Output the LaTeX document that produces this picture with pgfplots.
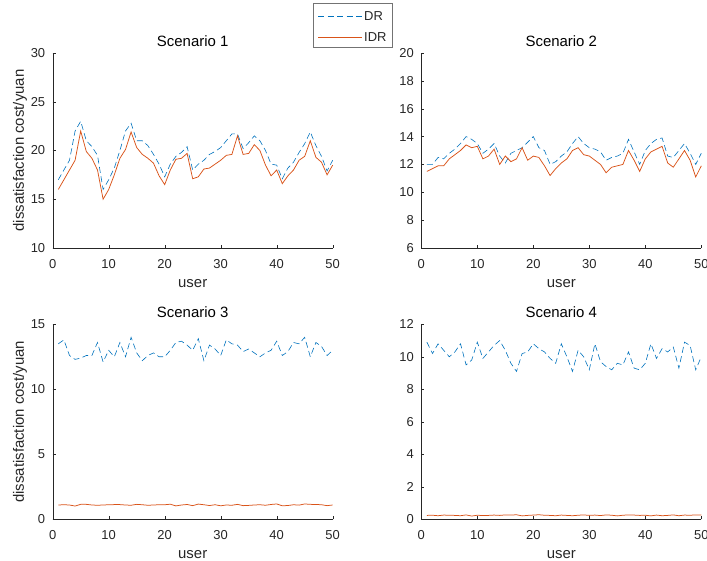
\documentclass[border=0pt]{standalone}
\usepackage{pgfplots}
\pgfplotsset{compat=1.18}
\usepackage{fontspec}
\setmainfont{Liberation Sans}

\definecolor{mblue}{rgb}{0,0.447,0.741}
\definecolor{morange}{rgb}{0.85,0.325,0.098}
\definecolor{axgray}{rgb}{0.15,0.15,0.15}

\tikzset{
  dr/.style={draw=mblue, line width=0.6bp, dash pattern=on 6bp off 3.5bp},
  idr/.style={draw=morange, line width=0.75bp},
}

\pgfplotsset{
  mstyle/.style={
    width=280bp, height=195bp, scale only axis,
    axis lines=left, axis line style={-, axgray},
    tick align=inside, major tick length=3bp,
    tick style={axgray},
    xmin=0, xmax=50, xtick={0,10,...,50},
    /pgf/number format/assume math mode=true,
    tick label style={font=\fontsize{13}{15}\selectfont, text=axgray},
    x tick label style={yshift=-8bp},
    y tick label style={xshift=-4bp},
    label style={font=\fontsize{15}{18}\selectfont, text=axgray},
    xlabel={user},
    xlabel style={at={(axis description cs:0.5,0)}, anchor=base, yshift=-39.5bp},
    ylabel style={at={(axis description cs:-0.117,0.5)}, anchor=center},
    title style={font=\fontsize{15}{18}\selectfont, at={(axis description cs:0.5,1)}, anchor=base, yshift=1bp},
    clip=false,
  },
}

\begin{document}
\begin{tikzpicture}
\useasboundingbox (0,0) rectangle (707bp,561bp);

% Scenario 1
\begin{axis}[mstyle, at={(52.7bp,313bp)}, anchor=south west,
  title={Scenario 1}, ylabel={dissatisfaction cost/yuan},
  ymin=10, ymax=30, ytick={10,15,...,30},
  ]
\addplot[dr] coordinates {
(1,17.0)(2,18.0)(3,19.0)(4,22.0)(5,23.0)(6,21.0)(7,20.4)(8,19.5)(9,16.0)(10,17.0)
(11,18.2)(12,20.0)(13,22.0)(14,22.8)(15,21.0)(16,21.0)(17,20.5)(18,19.6)(19,18.6)(20,17.3)
(21,18.6)(22,19.4)(23,19.8)(24,20.4)(25,18.0)(26,18.6)(27,19.0)(28,19.6)(29,19.9)(30,20.3)
(31,21.0)(32,21.7)(33,21.7)(34,20.2)(35,20.8)(36,21.5)(37,21.0)(38,20.0)(39,18.6)(40,18.5)
(41,17.1)(42,18.2)(43,18.8)(44,19.8)(45,20.7)(46,21.9)(47,20.5)(48,19.4)(49,17.9)(50,19.0)};
\addplot[idr] coordinates {
(1,16.0)(2,17.0)(3,18.0)(4,19.0)(5,22.0)(6,19.9)(7,19.2)(8,18.0)(9,15.0)(10,16.0)
(11,17.5)(12,19.2)(13,20.1)(14,21.9)(15,20.3)(16,19.6)(17,19.2)(18,18.7)(19,17.4)(20,16.5)
(21,18.0)(22,19.1)(23,19.2)(24,19.7)(25,17.1)(26,17.3)(27,18.1)(28,18.2)(29,18.6)(30,19.0)
(31,19.5)(32,19.6)(33,21.5)(34,19.6)(35,19.7)(36,20.6)(37,20.0)(38,18.5)(39,17.4)(40,18.0)
(41,16.6)(42,17.4)(43,18.0)(44,19.0)(45,19.4)(46,21.0)(47,19.3)(48,18.8)(49,17.5)(50,18.5)};
\end{axis}

% Scenario 2
\begin{axis}[mstyle, at={(421.3bp,313bp)}, anchor=south west,
  title={Scenario 2},
  ymin=6, ymax=20, ytick={6,8,...,20},
  ]
\addplot[dr] coordinates {
(1,12.0)(2,12.0)(3,12.5)(4,12.4)(5,12.8)(6,13.1)(7,13.5)(8,14.0)(9,13.8)(10,13.5)
(11,12.8)(12,13.1)(13,13.5)(14,12.6)(15,12.1)(16,12.8)(17,13.0)(18,13.2)(19,13.6)(20,14.0)
(21,13.2)(22,13.0)(23,12.0)(24,12.2)(25,12.6)(26,12.9)(27,13.5)(28,14.0)(29,13.5)(30,13.2)
(31,13.1)(32,12.9)(33,12.3)(34,12.5)(35,12.6)(36,12.8)(37,13.8)(38,12.9)(39,12.0)(40,13.0)
(41,13.5)(42,13.8)(43,13.9)(44,12.6)(45,12.5)(46,13.0)(47,13.5)(48,12.8)(49,12.0)(50,12.8)};
\addplot[idr] coordinates {
(1,11.5)(2,11.7)(3,11.9)(4,11.9)(5,12.4)(6,12.7)(7,13.0)(8,13.4)(9,13.2)(10,13.3)
(11,12.4)(12,12.6)(13,13.1)(14,12.0)(15,12.6)(16,12.2)(17,12.4)(18,13.2)(19,12.3)(20,12.6)
(21,12.5)(22,11.9)(23,11.2)(24,11.7)(25,12.1)(26,12.4)(27,13.0)(28,13.2)(29,12.7)(30,12.6)
(31,12.3)(32,12.0)(33,11.4)(34,11.8)(35,11.9)(36,12.0)(37,13.0)(38,12.3)(39,11.5)(40,12.4)
(41,12.9)(42,13.1)(43,13.3)(44,12.1)(45,11.8)(46,12.4)(47,13.0)(48,12.3)(49,11.1)(50,11.9)};
\end{axis}

% Scenario 3
\begin{axis}[mstyle, at={(52.7bp,41.7bp)}, anchor=south west,
  title={Scenario 3}, ylabel={dissatisfaction cost/yuan},
  ymin=0, ymax=15, ytick={0,5,10,15},
  ]
\addplot[dr] coordinates {
(1,13.5)(2,13.8)(3,12.6)(4,12.3)(5,12.4)(6,12.6)(7,12.6)(8,13.6)(9,12.1)(10,13.0)
(11,12.5)(12,13.6)(13,12.5)(14,14.0)(15,12.8)(16,12.2)(17,12.6)(18,12.8)(19,12.5)(20,12.5)
(21,13.0)(22,13.6)(23,13.7)(24,13.4)(25,13.0)(26,13.9)(27,12.2)(28,13.4)(29,13.1)(30,12.6)
(31,13.8)(32,13.5)(33,13.4)(34,12.9)(35,13.1)(36,12.8)(37,12.5)(38,12.8)(39,13.0)(40,13.7)
(41,12.6)(42,12.9)(43,13.6)(44,13.5)(45,14.0)(46,12.5)(47,13.6)(48,13.3)(49,12.6)(50,13.0)};
\addplot[idr] coordinates {
(1,1.10)(2,1.12)(3,1.10)(4,1.02)(5,1.15)(6,1.15)(7,1.10)(8,1.08)(9,1.10)(10,1.12)
(11,1.13)(12,1.13)(13,1.10)(14,1.08)(15,1.15)(16,1.12)(17,1.08)(18,1.10)(19,1.12)(20,1.12)
(21,1.16)(22,1.03)(23,1.10)(24,1.14)(25,1.05)(26,1.17)(27,1.12)(28,1.06)(29,1.12)(30,1.04)
(31,1.10)(32,1.08)(33,1.15)(34,1.05)(35,1.07)(36,1.10)(37,1.12)(38,1.08)(39,1.14)(40,1.18)
(41,1.04)(42,1.06)(43,1.12)(44,1.09)(45,1.18)(46,1.15)(47,1.14)(48,1.12)(49,1.05)(50,1.10)};
\end{axis}

% Scenario 4
\begin{axis}[mstyle, at={(421.3bp,41.7bp)}, anchor=south west,
  title={Scenario 4},
  ymin=0, ymax=12, ytick={0,2,...,12},
  ]
\addplot[dr] coordinates {
(1,10.9)(2,10.2)(3,10.8)(4,10.4)(5,10.0)(6,10.3)(7,10.8)(8,9.5)(9,9.8)(10,10.9)
(11,9.9)(12,10.3)(13,10.7)(14,11.0)(15,10.4)(16,9.6)(17,9.1)(18,10.2)(19,10.3)(20,10.8)
(21,10.5)(22,10.3)(23,9.9)(24,9.6)(25,10.8)(26,10.0)(27,9.1)(28,10.4)(29,10.0)(30,9.2)
(31,10.8)(32,9.7)(33,9.4)(34,9.2)(35,9.6)(36,9.5)(37,10.3)(38,9.3)(39,9.2)(40,9.6)
(41,10.8)(42,9.9)(43,10.5)(44,10.3)(45,10.6)(46,9.3)(47,10.9)(48,10.7)(49,9.2)(50,10.0)};
\addplot[idr] coordinates {
(1,0.24)(2,0.25)(3,0.22)(4,0.26)(5,0.25)(6,0.24)(7,0.22)(8,0.27)(9,0.20)(10,0.25)
(11,0.23)(12,0.24)(13,0.26)(14,0.24)(15,0.27)(16,0.26)(17,0.28)(18,0.21)(19,0.24)(20,0.26)
(21,0.28)(22,0.25)(23,0.24)(24,0.22)(25,0.26)(26,0.24)(27,0.22)(28,0.25)(29,0.27)(30,0.24)
(31,0.26)(32,0.23)(33,0.27)(34,0.25)(35,0.21)(36,0.25)(37,0.27)(38,0.26)(39,0.24)(40,0.25)
(41,0.21)(42,0.26)(43,0.22)(44,0.24)(45,0.27)(46,0.22)(47,0.26)(48,0.25)(49,0.27)(50,0.26)};
\end{axis}

% legend box (shared)
\draw[black!55, line width=0.5bp, fill=white] (313bp,514bp) rectangle (392bp,558bp);
\draw[dr] (318bp,545bp) -- (362bp,545bp);
\draw[idr] (318bp,524bp) -- (362bp,524bp);
\node[anchor=west, inner sep=0pt, text=axgray, font=\fontsize{13}{15}\selectfont] at (364bp,545bp) {DR};
\node[anchor=west, inner sep=0pt, text=axgray, font=\fontsize{13}{15}\selectfont] at (364bp,524bp) {IDR};
\end{tikzpicture}
\end{document}
